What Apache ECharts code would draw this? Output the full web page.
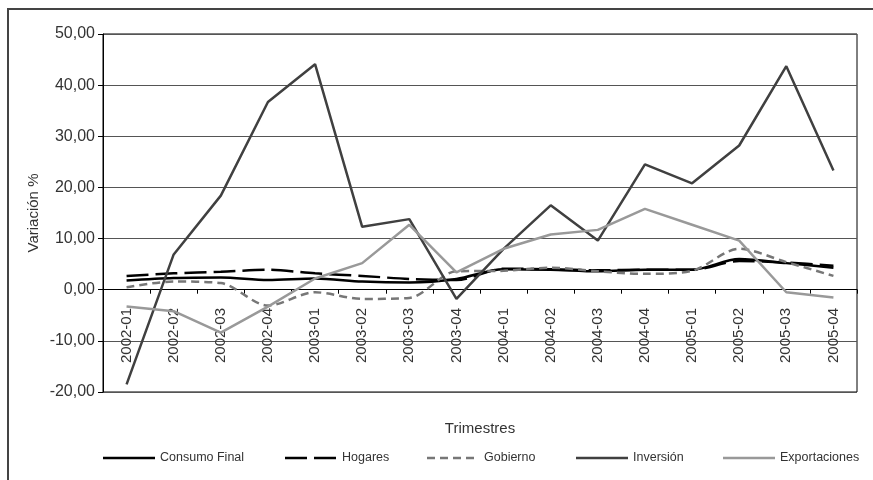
<!DOCTYPE html>
<html><head><meta charset="utf-8">
<script src="https://cdn.jsdelivr.net/npm/echarts@6/dist/echarts.min.js"></script>
<style>html,body{margin:0;padding:0;background:#fff}#c{width:873px;height:480px}</style>
</head><body><div id="c"></div>
<script>
const categories = ['2002-01','2002-02','2002-03','2002-04','2003-01','2003-02','2003-03','2003-04','2004-01','2004-02','2004-03','2004-04','2005-01','2005-02','2005-03','2005-04'];
const consumoFinal = [1.8, 2.3, 2.4, 1.9, 2.2, 1.6, 1.4, 2.1, 4.0, 3.9, 3.6, 3.9, 3.9, 6.0, 5.2, 4.3];
const hogares = [2.7, 3.2, 3.5, 3.9, 3.2, 2.7, 2.1, 1.9, 4.1, 4.0, 3.8, 3.9, 3.9, 5.6, 5.3, 4.7];
const gobierno = [0.5, 1.6, 1.3, -3.1, -0.5, -1.8, -1.6, 3.6, 3.7, 4.3, 3.6, 3.1, 3.7, 8.0, 5.4, 2.7];
const inversion = [-18.5, 6.9, 18.4, 36.7, 44.1, 12.3, 13.8, -1.8, 8.0, 16.5, 9.6, 24.5, 20.8, 28.2, 43.7, 23.3];
const exportaciones = [-3.3, -4.2, -8.4, -3.3, 2.2, 5.2, 12.7, 3.4, 8.0, 10.8, 11.7, 15.8, 12.7, 9.6, -0.5, -1.5];
const seriesNames = ['Consumo Final','Hogares','Gobierno','Inversión','Exportaciones'];
const yTicks = {min: -20, max: 50, interval: 10};

const FONT = '"Liberation Sans", Arial, sans-serif';
const styles = [
  {color: '#000000', dash: null, smooth: true},
  {color: '#000000', dash: [22, 7], smooth: true},
  {color: '#777777', dash: [8, 5], smooth: true},
  {color: '#404040', dash: null, smooth: false},
  {color: '#999999', dash: null, smooth: false}
];
const dataList = [consumoFinal, hogares, gobierno, inversion, exportaciones];
// legend layout (manual)
const legendX = [103, 285, 427, 576, 723];
const legendY = 458;

const chart = echarts.init(document.getElementById('c'), null, {renderer: 'canvas'});
const graphics = [{type: 'rect', shape: {x: 8, y: 9, width: 900, height: 520}, style: {fill: 'none', stroke: '#444', lineWidth: 2}, silent: true}];
seriesNames.forEach((n, i) => {
  graphics.push({type: 'line', shape: {x1: legendX[i], y1: legendY, x2: legendX[i] + 52, y2: legendY},
    style: {stroke: styles[i].color, lineWidth: 2.5, lineDash: styles[i].dash || null}, silent: true});
  graphics.push({type: 'text', x: legendX[i] + 57, y: legendY,
    style: {text: n, fill: '#333', font: '12.5px ' + FONT, textVerticalAlign: 'middle', verticalAlign: 'middle'}, silent: true});
});

chart.setOption({
  animation: false,
  textStyle: {fontFamily: FONT},
  graphic: graphics,
  grid: {left: 103, right: 16, top: 34, bottom: 88, show: true, borderColor: '#000', borderWidth: 1,
    containLabel: false, outerBoundsMode: 'none'},
  xAxis: {
    type: 'category', data: categories, boundaryGap: true,
    name: 'Trimestres', nameLocation: 'middle', nameGap: 29, nameMoveOverlap: false,
    nameTextStyle: {fontFamily: FONT, fontSize: 15, color: '#333'},
    axisLine: {onZero: true, lineStyle: {color: '#000', width: 1}},
    axisTick: {show: true, inside: false, length: 4, lineStyle: {color: '#000'}},
    axisLabel: {rotate: 90, margin: -84, fontFamily: FONT, fontSize: 15, color: '#333', interval: 0},
    splitLine: {show: false}
  },
  yAxis: {
    type: 'value', min: yTicks.min, max: yTicks.max, interval: yTicks.interval,
    name: 'Variación %', nameLocation: 'middle', nameGap: 62, nameMoveOverlap: false,
    nameTextStyle: {fontFamily: FONT, fontSize: 15, color: '#333'},
    axisLine: {show: true, lineStyle: {color: '#000', width: 1}},
    axisTick: {show: true, length: 5, lineStyle: {color: '#000'}},
    axisLabel: {fontFamily: FONT, fontSize: 16, color: '#333', margin: 8,
      formatter: v => v.toFixed(2).replace('.', ',')},
    splitLine: {show: true, lineStyle: {color: '#555', width: 1}}
  },
  series: seriesNames.map((n, i) => ({
    name: n, type: 'line', data: dataList[i], showSymbol: false, symbol: 'none',
    smooth: styles[i].smooth ? 0.3 : false,
    lineStyle: {color: styles[i].color, width: 2.5, type: styles[i].dash || 'solid'},
    itemStyle: {color: styles[i].color}, z: 3
  }))
});
</script></body></html>
